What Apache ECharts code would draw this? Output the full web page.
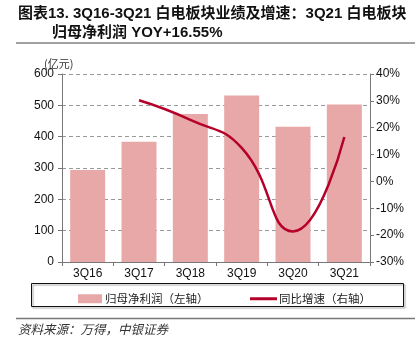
<!DOCTYPE html>
<html>
<head>
<meta charset="utf-8">
<script src="https://cdn.jsdelivr.net/npm/echarts@6/dist/echarts.min.js"></script>
<style>html,body{margin:0;padding:0;background:#fff;}#c{width:420px;height:346px;}</style>
</head>
<body>
<div id="c"></div>
<script>
var categories = ['3Q16','3Q17','3Q18','3Q19','3Q20','3Q21'];
var profit = [294, 384, 472, 531, 432, 503];
var yoy = [null, 30.2, 22.9, 12.5, -18.6, 16.55];
var leftTicks = {min: 0, max: 600, interval: 100};
var rightTicks = {min: -30, max: 40, interval: 10};

var cjk = '"Noto Sans CJK SC", sans-serif';
var mix = '"Liberation Sans", "Noto Sans CJK SC", sans-serif';
var lat = '"Liberation Sans", Arial, sans-serif';
var chart = echarts.init(document.getElementById('c'), null, {renderer: 'canvas'});
chart.setOption({
  animation: false,
  backgroundColor: '#fff',
  grid: {left: 62, right: 50, top: 74, bottom: 84},
  graphic: [
    {type: 'text', left: 18, top: 6, style: {text: '图表13. 3Q16-3Q21 白电板块业绩及增速：3Q21 白电板块', font: 'bold 15px ' + mix, fill: '#111'}},
    {type: 'text', left: 52, top: 25, style: {text: '归母净利润 YOY+16.55%', font: 'bold 15px ' + mix, fill: '#111'}},
    {type: 'line', shape: {x1: 16, y1: 43, x2: 415, y2: 43}, style: {stroke: '#444', lineWidth: 1}},
    {type: 'rect', shape: {x: 31.5, y: 283.5, width: 372, height: 23}, style: {fill: 'none', stroke: '#111', lineWidth: 1, shadowColor: 'rgba(0,0,0,0.35)', shadowOffsetX: 1.5, shadowOffsetY: 1.5, shadowBlur: 1}},
    {type: 'line', shape: {x1: 16, y1: 318.5, x2: 415, y2: 318.5}, style: {stroke: '#777', lineWidth: 1.5}},
    {type: 'text', left: 18, top: 323, style: {text: '资料来源：万得，中银证券', font: 'italic 12.5px ' + cjk, fill: '#333'}},
    {type: 'text', left: 44, top: 58, style: {text: '(亿元)', font: '11px ' + cjk, fill: '#333'}}
  ],
  legend: [
    {data: ['归母净利润（左轴）'], left: 73, top: 288, itemWidth: 24, itemHeight: 9, itemGap: 4, icon: 'rect',
     textStyle: {fontFamily: cjk, fontSize: 11.5, color: '#222', padding: [0, 0, 0, -2]}},
    {data: ['同比增速（右轴）'], left: 245, top: 288, itemWidth: 27, itemHeight: 3, icon: 'rect',
     textStyle: {fontFamily: cjk, fontSize: 11.5, color: '#222', padding: [0, 0, 0, -3]}}
  ],
  xAxis: {
    type: 'category', data: categories,
    axisLine: {lineStyle: {color: '#777', width: 1}},
    axisTick: {show: true, length: 4, lineStyle: {color: '#777'}},
    axisLabel: {fontFamily: lat, fontSize: 12, color: '#111', margin: 6}
  },
  yAxis: [
    {type: 'value', min: leftTicks.min, max: leftTicks.max, interval: leftTicks.interval,
     axisLine: {show: true, lineStyle: {color: '#777', width: 1}},
     axisTick: {show: true, length: 4, lineStyle: {color: '#777'}},
     axisLabel: {fontFamily: lat, fontSize: 12, color: '#111', margin: 8},
     splitLine: {show: true, lineStyle: {color: '#999', type: [4, 3], width: 1}}},
    {type: 'value', min: rightTicks.min, max: rightTicks.max, interval: rightTicks.interval, position: 'right',
     axisLine: {show: true, lineStyle: {color: '#777', width: 1}},
     axisTick: {show: true, length: 4, lineStyle: {color: '#777'}},
     axisLabel: {fontFamily: lat, fontSize: 12, color: '#111', margin: 6, formatter: '{value}%'},
     splitLine: {show: false}}
  ],
  series: [
    {name: '归母净利润（左轴）', type: 'bar', data: profit, barWidth: 35, yAxisIndex: 0,
     itemStyle: {color: '#E8A8A8'}},
    {name: '同比增速（右轴）', type: 'line', data: yoy, yAxisIndex: 1, smooth: 0.5,
     symbol: 'none', lineStyle: {color: '#B5002A', width: 2.5}, itemStyle: {color: '#B5002A'}}
  ]
});
</script>
</body>
</html>
